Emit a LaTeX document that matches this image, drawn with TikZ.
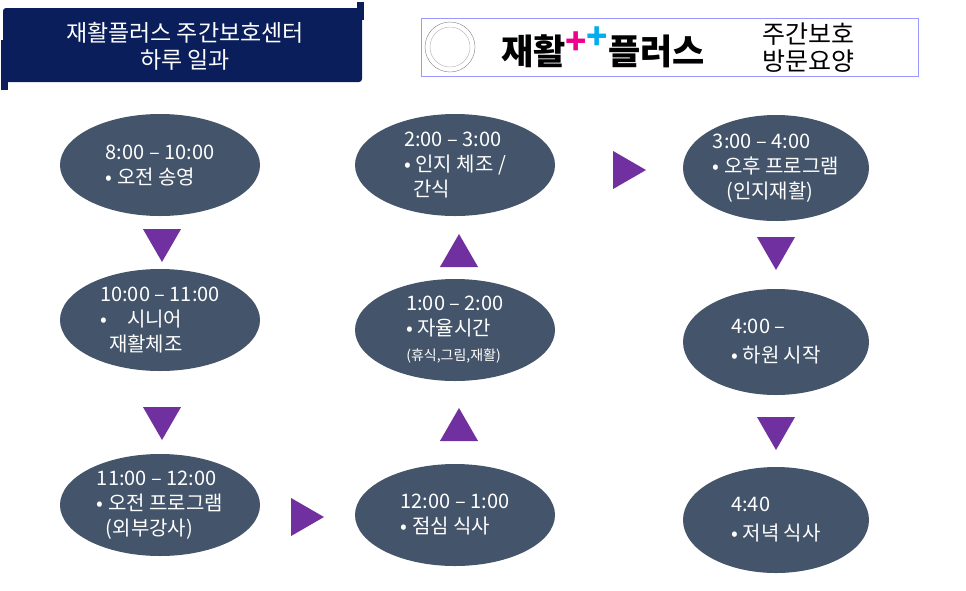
\documentclass[tikz,border=0pt]{standalone}
\usepackage{fontspec}
\setmainfont{Noto Sans CJK KR}
\usetikzlibrary{shapes.geometric}
\definecolor{ell}{HTML}{44546A}
\definecolor{navy}{HTML}{0A1E5C}
\definecolor{purp}{HTML}{7030A0}
\tikzset{
 ev/.style={ellipse,fill=ell,minimum width=200pt,minimum height=102pt,text=white,font=\fontsize{20}{25}\selectfont,align=left,inner sep=0pt},
 tri/.style={regular polygon,regular polygon sides=3,fill=purp,minimum size=44pt,inner sep=0pt},
}
\begin{document}
\begin{tikzpicture}[x=1pt,y=-1pt]
\useasboundingbox (0,0) rectangle (966,590);
% banner
\fill[navy,rounded corners=3pt] (3,8) rectangle (362,82);
\fill[navy] (357,2) rectangle (364,20);
\fill[navy] (1,40) rectangle (8,90);
\node[text=white,font=\fontsize{23}{27}\selectfont,align=center] (title) at (185,46) {재활플러스 주간보호센터\\하루 일과};
% logo box
\draw[blue!40,line width=1pt,fill=white] (421,18) rectangle (918,76);
\node[circle,draw=gray,minimum size=50pt,inner sep=0pt] (seal) at (450,47) {};
\node[circle,draw=gray!60,minimum size=40pt,inner sep=0pt] (seal2) at (450,47) {};
\node[font=\fontsize{35}{36}\selectfont\bfseries] (brand) at (603,47) {재활\raisebox{10pt}{\textcolor{magenta}{\bfseries +}\textcolor{cyan}{\raisebox{5pt}{\bfseries +}}}플러스};
\node[font=\fontsize{25}{27}\selectfont,align=center] (svc) at (808,48) {주간보호\\방문요양};
% ellipses
\node[ev] (a1) at (160,165) {8:00 – 10:00\\• 오전 송영};
\node[ev] (a2) at (160,320) {10:00 – 11:00\\•\quad 시니어\\\ \ 재활체조};
\node[ev] (a3) at (160,505) {11:00 – 12:00\\• 오전 프로그램\\\ \ (외부강사)};
\node[ev] (b1) at (455,515) {12:00 – 1:00\\• 점심 식사};
\node[ev] (b2) at (455,330) {1:00 – 2:00\\• 자율시간\\{\fontsize{14}{16}\selectfont (휴식,그림,재활)}};
\node[ev] (b3) at (455,165) {2:00 – 3:00\\• 인지 체조 /\\\ \ 간식};
\node[ev,minimum width=186pt,minimum height=106pt] (c1) at (776,168) {3:00 – 4:00\\• 오후 프로그램\\\ \ \ (인지재활)};
\node[ev,minimum width=186pt,minimum height=106pt] (c2) at (776,342) {4:00 –\\[4pt]• 하원 시작};
\node[ev,minimum width=186pt,minimum height=106pt] (c3) at (776,520) {4:40\\[4pt]• 저녁 식사};
% triangles
\node[tri,shape border rotate=180] (t1) at (162,240) {};
\node[tri,shape border rotate=180] (t2) at (162,418) {};
\node[tri,shape border rotate=-90] (t3) at (302,517) {};
\node[tri] (t4) at (459,430) {};
\node[tri] (t5) at (459,256) {};
\node[tri,shape border rotate=-90] (t6) at (624,170) {};
\node[tri,shape border rotate=180] (t7) at (776,248) {};
\node[tri,shape border rotate=180] (t8) at (776,428) {};
\end{tikzpicture}
\end{document}
